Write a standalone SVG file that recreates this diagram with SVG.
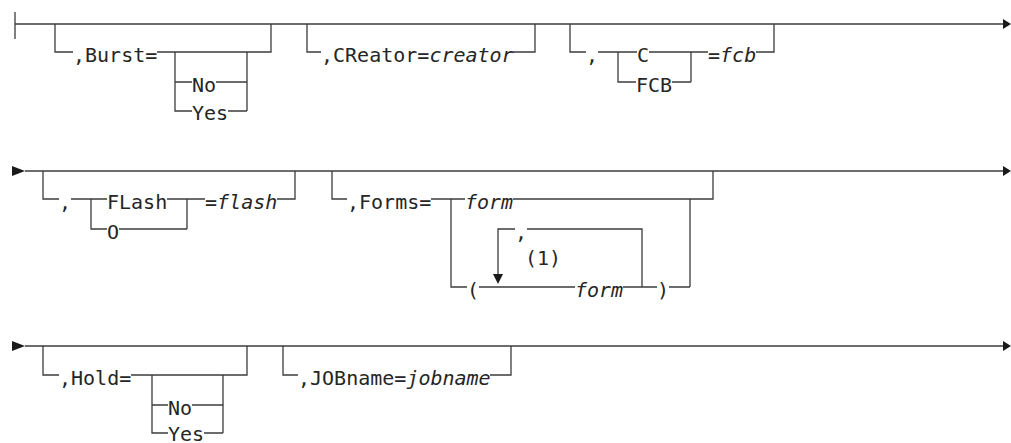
<svg xmlns="http://www.w3.org/2000/svg" width="1011" height="443" viewBox="0 0 1011 443">
<style>
  .ln { fill: none; stroke: #3c3c3c; stroke-width: 1.3; }
  .ah { fill: #1a1a1a; stroke: none; }
  text { font-family: "DejaVu Sans Mono", "Liberation Mono", monospace; font-size: 20px; fill: #262626; }
  .v { font-style: italic; }
</style>
<rect width="1011" height="443" fill="#ffffff"/>
<g id="connectors">
  <!-- Row 1 -->
  <path class="ln" d="M15 12 V39 M15 24 H1004"/>
  <polygon class="ah" points="1003,19 1011,24 1003,29"/>
  <!-- Burst -->
  <path class="ln" d="M55 24 V52 H73 M157 52 H271 V24 M175 52 V111 H192 M175 82 H192 M216 82 H247 M228 111 H247 M247 52 V111"/>
  <!-- CReator -->
  <path class="ln" d="M307 24 V52 H321 M513 52 H535 V24"/>
  <!-- FCB -->
  <path class="ln" d="M570 24 V52 H586 M598 52 H637 M618 52 V82 H636 M649 52 H691 M672 82 H691 M691 52 V82 M691 52 H708 M756 52 H774 V24"/>

  <!-- Row 2 -->
  <polygon class="ah" points="12,166 25,171 12,176"/>
  <path class="ln" d="M25 171 H1004"/>
  <polygon class="ah" points="1003,166 1011,171 1003,176"/>
  <!-- FLash -->
  <path class="ln" d="M43 171 V199 H59 M71 199 H107 M91 199 V229 H107 M119 229 H187 M167 199 H187 V229 M187 199 H205 M277 199 H295 V171"/>
  <!-- Forms -->
  <path class="ln" d="M332 171 V199 H347 M431 199 H465 M451 199 V287 H467 M513 199 H713 V171 M690 199 V287 M479 287 H575 M623 287 H657 M669 287 H690 M642 287 V229 H527 M515 229 H498 V276"/>
  <polygon class="ah" points="493,274 503,274 498,284"/>

  <!-- Row 3 -->
  <polygon class="ah" points="12,341 25,346 12,351"/>
  <path class="ln" d="M25 346 H1004"/>
  <polygon class="ah" points="1003,341 1011,346 1003,351"/>
  <!-- Hold -->
  <path class="ln" d="M43 346 V375 H59 M131 375 H247 V346 M152 375 V433 H168 M152 405 H168 M192 405 H223 M204 433 H223 M223 375 V433"/>
  <!-- JOBname -->
  <path class="ln" d="M283 346 V375 H298 M490 375 H511 V346"/>
</g>
<g id="burst">
  <text x="73" y="61.5">,Burst=</text>
  <text x="192" y="91.5">No</text>
  <text x="192" y="120">Yes</text>
</g>
<g id="creator">
  <text x="321" y="61.5">,CReator=<tspan class="v">creator</tspan></text>
</g>
<g id="fcb">
  <text x="586" y="61.5">,</text>
  <text x="637" y="61.5">C</text>
  <text x="636" y="91.5">FCB</text>
  <text x="708" y="61.5">=<tspan class="v">fcb</tspan></text>
</g>
<g id="flash">
  <text x="59" y="208.5">,</text>
  <text x="107" y="208.5">FLash</text>
  <text x="107" y="238.5">O</text>
  <text x="205" y="208.5">=<tspan class="v">flash</tspan></text>
</g>
<g id="forms">
  <text x="347" y="208.5">,Forms=</text>
  <text class="v" x="465" y="208.5">form</text>
  <text x="515" y="238.5">,</text>
  <text x="525" y="265">(1)</text>
  <text x="467" y="296.5">(</text>
  <text class="v" x="575" y="296.5">form</text>
  <text x="657" y="296.5">)</text>
</g>
<g id="hold">
  <text x="59" y="384.5">,Hold=</text>
  <text x="168" y="414.5">No</text>
  <text x="168" y="441">Yes</text>
</g>
<g id="jobname">
  <text x="298" y="384.5">,JOBname=<tspan class="v">jobname</tspan></text>
</g>
</svg>
